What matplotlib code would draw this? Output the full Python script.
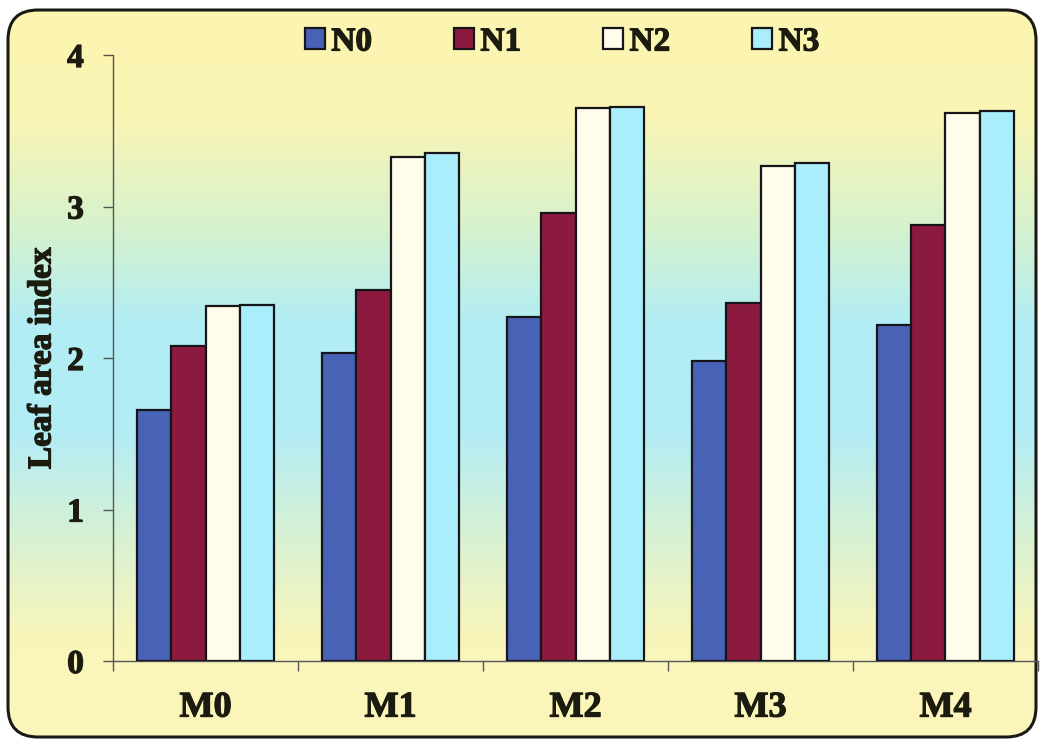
import numpy as np
import matplotlib
matplotlib.use("Agg")
import matplotlib.pyplot as plt
import matplotlib.patheffects as pe
from matplotlib.patches import FancyBboxPatch, Patch
from matplotlib.colors import LinearSegmentedColormap

plt.rcParams['font.family'] = ['Liberation Serif', 'DejaVu Serif']
plt.rcParams['font.weight'] = 'bold'

# leaf area index per manure level (M) and nitrogen level (N)
groups = ['M0', 'M1', 'M2', 'M3', 'M4']
series = ['N0', 'N1', 'N2', 'N3']
n0 = [1.66, 2.03, 2.27, 1.98, 2.22]
n1 = [2.08, 2.45, 2.96, 2.36, 2.88]
n2 = [2.34, 3.33, 3.65, 3.27, 3.62]
n3 = [2.35, 3.35, 3.66, 3.29, 3.63]
colors = ['#4862b6', '#8b1a3e', '#fffcec', '#aaeefb']
yticks = [0, 1, 2, 3, 4]

TXT = '#1b1b10'
heavy = [pe.withStroke(linewidth=0.9, foreground=TXT)]

W, H = 1040, 740
fig = plt.figure(figsize=(W / 100, H / 100), dpi=100)
fig.patch.set_facecolor('white')

# background panel: rounded box with a yellow - cyan - yellow fill
bg = fig.add_axes([0, 0, 1, 1])
bg.set_xlim(0, W)
bg.set_ylim(H, 0)
bg.axis('off')
cmap = LinearSegmentedColormap.from_list('panel', [
    (0.00, '#fdf6b2'),
    (0.14, '#fbf5b4'),
    (0.30, '#d6f2ce'),
    (0.43, '#b2edf4'),
    (0.58, '#b2ecf6'),
    (0.72, '#d6f1d4'),
    (0.86, '#f8f5bc'),
    (1.00, '#fdf6ba'),
])
grad = np.linspace(0, 1, 400).reshape(-1, 1)
img = bg.imshow(grad, cmap=cmap, aspect='auto', extent=[8, 1036, 737, 10],
                interpolation='bilinear', zorder=0)
box = FancyBboxPatch((8, 10), 1028, 727, boxstyle='round,pad=0,rounding_size=30',
                     facecolor='none', edgecolor='#1a1a14', linewidth=2.2, zorder=2)
bg.add_patch(box)
img.set_clip_path(box)

ax = fig.add_axes([113 / W, 79 / H, 925 / W, 606 / H])
ax.set_facecolor('none')

x = np.arange(len(groups))
w = 0.184
for k, (vals, col, name) in enumerate(zip([n0, n1, n2, n3], colors, series)):
    ax.bar(x + (k - 1.5) * w, vals, w, color=col, edgecolor='#15151a',
           linewidth=1.6, label=name, zorder=3)

ax.set_xlim(-0.5, len(groups) - 0.5)
ax.set_ylim(0, 4)
ax.set_yticks(yticks)
ax.set_xticks(x)
ax.set_xticklabels(groups)
ax.set_xticks(np.arange(-0.5, len(groups)), minor=True)
ax.tick_params(axis='x', which='major', length=0, pad=22, labelsize=26, labelcolor=TXT)
ax.tick_params(axis='x', which='minor', length=7, width=1, color='#555555', direction='out')
ax.tick_params(axis='y', length=7, width=1, color='#555555', pad=14, labelsize=24,
               labelcolor=TXT)
for side in ['top', 'right']:
    ax.spines[side].set_visible(False)
for side in ['left', 'bottom']:
    ax.spines[side].set_color('#555555')
    ax.spines[side].set_linewidth(1.0)

ax.set_ylabel('Leaf area index', fontsize=24, fontweight='bold', color=TXT)
ax.yaxis.set_label_coords(-0.06, 0.5)

for t in ax.get_xticklabels() + ax.get_yticklabels() + [ax.yaxis.label]:
    t.set_path_effects(heavy)

handles = [Patch(facecolor=c, edgecolor='#15151a', linewidth=1.6) for c in colors]
leg = fig.legend(handles, series, loc='center', bbox_to_anchor=(562 / W, 1 - 42 / H), ncol=4,
                 frameon=False, fontsize=24, handlelength=0.6, handleheight=0.6,
                 handletextpad=0.2, columnspacing=2.45, labelcolor=TXT)
for t in leg.get_texts():
    t.set_path_effects(heavy)

fig.savefig('out.png', dpi=100)
